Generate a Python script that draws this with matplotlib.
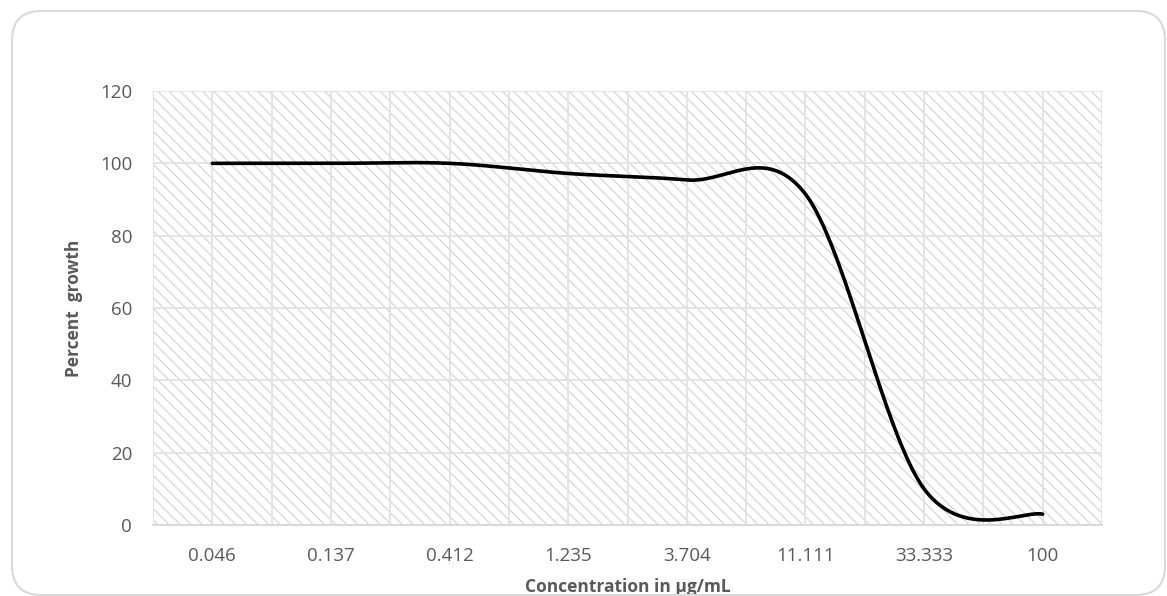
import numpy as np
import matplotlib
matplotlib.use("Agg")
import matplotlib.pyplot as plt
from matplotlib.patches import FancyBboxPatch, Rectangle

# ---- data ----
concentrations = ["0.046", "0.137", "0.412", "1.235", "3.704", "11.111", "33.333", "100"]
percent_growth = [100, 100, 100, 97.2, 95.4, 91.5, 10, 3]
y_ticks = [0, 20, 40, 60, 80, 100, 120]

plt.rcParams['font.family'] = ['Open Sans', 'DejaVu Sans']
plt.rcParams['hatch.color'] = '#d6d6d6'
plt.rcParams['hatch.linewidth'] = 0.9

W, H, DPI = 1167, 596, 100
fig = plt.figure(figsize=(W / DPI, H / DPI), dpi=DPI)

# outer rounded border
border = FancyBboxPatch((12 / W, 1 / H), (W - 14) / W, (H - 12) / H,
                        boxstyle="round,pad=0,rounding_size=0.025",
                        transform=fig.transFigure, fill=False,
                        edgecolor='#d9d9d9', linewidth=1.5, mutation_aspect=W / H)
fig.patches.append(border)

ax = fig.add_axes([153 / W, (H - 525) / H, (1102 - 153) / W, (525 - 91) / H])

# hatched plot-area background
ax.add_patch(Rectangle((0, 0), 1, 1, transform=ax.transAxes, facecolor='white',
                       hatch='\\\\\\', edgecolor='#d6d6d6', linewidth=0, zorder=0))


def excel_smooth(y, n=60):
    y = np.asarray(y, dtype=float)
    x = np.arange(len(y), dtype=float)
    xs, ys = [], []
    for i in range(len(y) - 1):
        i0 = max(i - 1, 0)
        i3 = min(i + 2, len(y) - 1)
        p0x, p0y = x[i], y[i]
        p3x, p3y = x[i + 1], y[i + 1]
        c1x = p0x + (x[i + 1] - x[i0]) / 6
        c1y = p0y + (y[i + 1] - y[i0]) / 6
        c2x = p3x - (x[i3] - x[i]) / 6
        c2y = p3y - (y[i3] - y[i]) / 6
        t = np.linspace(0, 1, n)
        b0 = (1 - t) ** 3
        b1 = 3 * (1 - t) ** 2 * t
        b2 = 3 * (1 - t) * t ** 2
        b3 = t ** 3
        xs.append(b0 * p0x + b1 * c1x + b2 * c2x + b3 * p3x)
        ys.append(b0 * p0y + b1 * c1y + b2 * c2y + b3 * p3y)
    return np.concatenate(xs), np.concatenate(ys)


sx, sy = excel_smooth(percent_growth)
ax.plot(sx, sy, color='black', linewidth=2.6, solid_capstyle='round', zorder=3)

n = len(concentrations)
ax.set_xlim(-0.5, n - 0.5)
ax.set_ylim(0, 120)
ax.set_yticks(y_ticks)
ax.set_xticks(range(n))
ax.set_xticklabels(concentrations)

# gridlines: horizontal at y ticks, vertical at category boundaries and centres
for yv in y_ticks[1:]:
    ax.axhline(yv, color='#e2e2e2', linewidth=1.3, zorder=1)
for xv in np.arange(-0.5, n, 0.5):
    ax.axvline(xv, color='#e2e2e2', linewidth=1.3, zorder=1)

for s in ['top', 'right', 'left']:
    ax.spines[s].set_visible(False)
ax.spines['bottom'].set_color('#d9d9d9')
ax.spines['bottom'].set_linewidth(1.5)
ax.spines['bottom'].set_zorder(2)

ax.tick_params(axis='both', length=0, labelsize=13.5, labelcolor='#595959')
ax.tick_params(axis='y', pad=15)
ax.tick_params(axis='x', pad=16)

ax.set_ylabel('Percent  growth', fontsize=12.5, fontweight='bold', color='#595959', labelpad=12)
ax.set_xlabel('Concentration in µg/mL', fontsize=12.5, fontweight='bold', color='#595959', labelpad=9)

fig.savefig('out.png', dpi=DPI)
